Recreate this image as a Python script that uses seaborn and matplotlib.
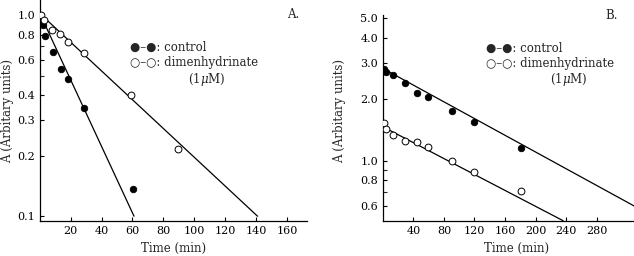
import numpy as np
import pandas as pd
import matplotlib
matplotlib.use("Agg")
import matplotlib.pyplot as plt
import seaborn as sns

# Panel A: time (min) and A (arbitrary units)
a_t_ctrl = [1.9, 3.4, 8.7, 14, 18.4, 28.9, 60.1]
a_ctrl = [0.89, 0.79, 0.657, 0.543, 0.48, 0.347, 0.136]
a_t_dimen = [0.8, 2.7, 8.1, 13.1, 18.4, 28.8, 58.8, 89.6]
a_dimen = [1.0, 0.944, 0.842, 0.802, 0.737, 0.645, 0.403, 0.215]
# fitted lines (start/end)
a_fit_t_ctrl = [0, 61]
a_fit_ctrl = [1.02, 0.1]
a_fit_t_dimen = [0, 141]
a_fit_dimen = [1.02, 0.1]

# Panel B
b_t = [1, 4, 14, 29, 45, 59.5, 90.8, 119.4, 180.5]
b_ctrl = [2.81, 2.72, 2.62, 2.41, 2.15, 2.055, 1.754, 1.54, 1.155]
b_dimen = [1.522, 1.422, 1.334, 1.25, 1.228, 1.161, 0.998, 0.875, 0.709]
b_fit_t_ctrl = [0, 350]
b_fit_ctrl = [2.83, 0.542]
b_fit_t_dimen = [0, 236]
b_fit_dimen = [1.465, 0.507]

a_yticks = [0.1, 0.2, 0.3, 0.4, 0.6, 0.8, 1.0]
a_yminor = [0.5, 0.7, 0.9]
a_xticks = [20, 40, 60, 80, 100, 120, 140, 160]
b_yticks = [0.6, 0.8, 1.0, 2.0, 3.0, 4.0, 5.0]
b_yminor = [0.7, 0.9]
b_xticks = [40, 80, 120, 160, 200, 240, 280]

sns.set_style("ticks")
plt.rcParams['font.family'] = ['DejaVu Serif', 'DejaVu Sans']
plt.rcParams['mathtext.fontset'] = 'dejavuserif'

fig = plt.figure(figsize=(6.34, 2.56), dpi=100)
W, H = 634, 256
axA = fig.add_axes([39.8 / W, 1 - 220.7 / H, 267.2 / W, 220.7 / H])
axB = fig.add_axes([382.8 / W, 1 - 220.7 / H, 267.2 / W, 205.7 / H])


def draw(ax, t1, y1, t2, y2, f1t, f1y, f2t, f2y):
    sns.lineplot(x=f1t, y=f1y, ax=ax, color='black', lw=0.9)
    sns.lineplot(x=f2t, y=f2y, ax=ax, color='black', lw=0.9)
    sns.scatterplot(x=t1, y=y1, ax=ax, color='black', s=22, edgecolor='black',
                    linewidth=0.6, zorder=3)
    sns.scatterplot(x=t2, y=y2, ax=ax, color='white', s=24, edgecolor='black',
                    linewidth=0.7, zorder=3)
    ax.set_yscale('log')
    sns.despine(ax=ax)
    for s in ['left', 'bottom']:
        ax.spines[s].set_linewidth(0.9)
        ax.spines[s].set_color('black')
    ax.tick_params(direction='in', length=3, width=0.8, labelsize=8, colors='black')
    ax.tick_params(which='minor', direction='in', length=3, width=0.8)
    ax.set_xlabel('Time (min)', fontsize=8.5)
    ax.set_ylabel('A (Arbitary units)', fontsize=8.5)


draw(axA, a_t_ctrl, a_ctrl, a_t_dimen, a_dimen,
     a_fit_t_ctrl, a_fit_ctrl, a_fit_t_dimen, a_fit_dimen)
axA.set_xlim(0, 173)
axA.set_ylim(0.095, 1.19)
axA.set_yticks(a_yticks)
axA.set_yticklabels([f'{v:.1f}' for v in a_yticks])
axA.set_yticks(a_yminor, minor=True)
axA.yaxis.set_minor_formatter(plt.NullFormatter())
axA.set_xticks(a_xticks)
axA.yaxis.set_label_coords(-26 / 267.2, (220.7 - 111) / 220.7)
axA.xaxis.set_label_coords(0.5, -21 / 220.7)

draw(axB, b_t, b_ctrl, b_t, b_dimen,
     b_fit_t_ctrl, b_fit_ctrl, b_fit_t_dimen, b_fit_dimen)
axB.set_xlim(0, 349.7)
axB.set_ylim(0.507, 5.17)
axB.set_yticks(b_yticks)
axB.set_yticklabels([f'{v:.1f}' for v in b_yticks])
axB.set_yticks(b_yminor, minor=True)
axB.yaxis.set_minor_formatter(plt.NullFormatter())
axB.set_xticks(b_xticks)
axB.yaxis.set_label_coords(-36.8 / 267.2, (220.7 - 111) / 205.7)
axB.xaxis.set_label_coords(0.5, -21 / 205.7)

# legends and panel letters
fs = 8.5
fig.text(130 / W, 1 - 47.3 / H, '●–●: control', fontsize=fs, va='center')
fig.text(130 / W, 1 - 62.3 / H, '○–○: dimenhydrinate', fontsize=fs, va='center')
fig.text(206.7 / W, 1 - 79 / H, '(1$\\mu$M)', fontsize=fs, va='center', ha='center')
fig.text(292.7 / W, 1 - 15 / H, 'A.', fontsize=fs, va='center', ha='center')
fig.text(485.7 / W, 1 - 48.3 / H, '●–●: control', fontsize=fs, va='center')
fig.text(485.7 / W, 1 - 63.3 / H, '○–○: dimenhydrinate', fontsize=fs, va='center')
fig.text(569 / W, 1 - 79.3 / H, '(1$\\mu$M)', fontsize=fs, va='center', ha='center')
fig.text(611.7 / W, 1 - 15.7 / H, 'B.', fontsize=fs, va='center', ha='center')

fig.savefig('out.png', dpi=100)
